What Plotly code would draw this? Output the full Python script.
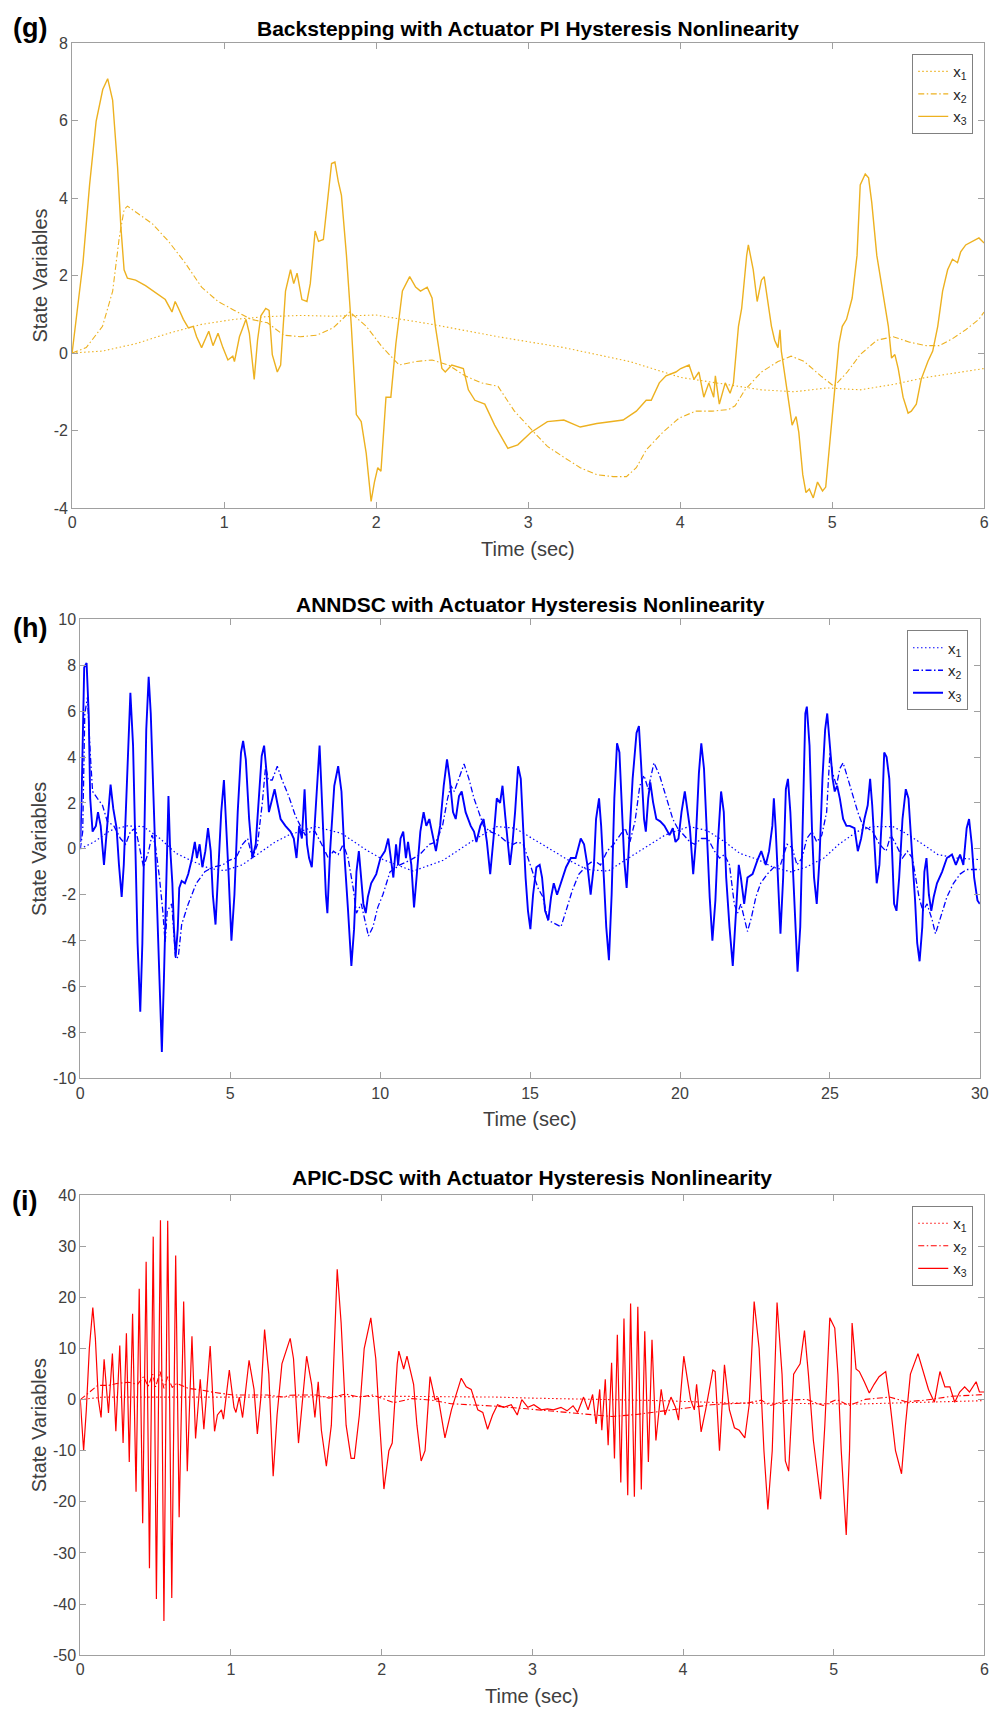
import plotly.graph_objects as go

W, H = 1001, 1719

# ---------------- Panel (g): Backstepping ----------------
g_x1_pts = [(0, 0), (0.2, 0.05), (0.418, 0.24), (0.635, 0.51), (0.852, 0.74), (1.068, 0.87), (1.285, 0.94),
            (1.502, 0.97), (1.718, 0.95), (2.0, 0.98), (2.368, 0.74), (2.802, 0.42), (3.235, 0.14), (3.668, -0.22),
            (4.004, -0.63), (4.318, -0.81), (4.535, -0.95), (4.752, -1.0), (4.969, -0.9), (5.185, -0.95),
            (5.402, -0.81), (5.619, -0.63), (5.835, -0.5), (6.0, -0.4)]
g_x2_pts = [(0, 0), (0.093, 0.14), (0.2, 0.69), (0.267, 1.6), (0.31, 2.97), (0.342, 3.7), (0.364, 3.79),
            (0.527, 3.34), (0.635, 2.88), (0.743, 2.33), (0.852, 1.7), (0.96, 1.33), (1.068, 1.1), (1.177, 0.87),
            (1.285, 0.78), (1.393, 0.46), (1.502, 0.42), (1.61, 0.46), (1.718, 0.65), (1.827, 1.06), (1.935, 0.69),
            (2.043, 0.14), (2.152, -0.31), (2.26, -0.22), (2.368, -0.18), (2.477, -0.31), (2.585, -0.59),
            (2.693, -0.77), (2.802, -0.86), (2.91, -1.5), (3.018, -1.96), (3.127, -2.41), (3.235, -2.69),
            (3.343, -2.96), (3.452, -3.14), (3.56, -3.19), (3.647, -3.19), (3.712, -2.96), (3.777, -2.5),
            (3.885, -2.05), (3.993, -1.68), (4.102, -1.5), (4.21, -1.5), (4.318, -1.46), (4.362, -1.36),
            (4.427, -0.95), (4.535, -0.49), (4.644, -0.22), (4.73, -0.08), (4.817, -0.22), (4.925, -0.59),
            (5.013, -0.86), (5.1, -0.49), (5.185, -0.04), (5.294, 0.33), (5.402, 0.42), (5.51, 0.28),
            (5.619, 0.19), (5.705, 0.19), (5.792, 0.37), (5.879, 0.6), (5.966, 0.87), (6.0, 1.06)]
g_x3_pts = [(0, 0), (0.0715, 2.33), (0.115, 4.34), (0.158, 5.98), (0.2015, 6.8), (0.234, 7.08), (0.2665, 6.53),
            (0.299, 4.8), (0.321, 3.25), (0.342, 2.15), (0.364, 1.93), (0.418, 1.88), (0.483, 1.74), (0.548, 1.56),
            (0.613, 1.38), (0.657, 1.06), (0.678, 1.33), (0.7, 1.15), (0.732, 0.87), (0.765, 0.65), (0.797, 0.69),
            (0.819, 0.42), (0.852, 0.14), (0.873, 0.33), (0.899, 0.56), (0.927, 0.19), (0.96, 0.51), (0.992, 0.14),
            (1.025, -0.18), (1.057, -0.08), (1.068, -0.22), (1.101, 0.42), (1.144, 0.87), (1.166, 0.51),
            (1.198, -0.68), (1.22, 0.33), (1.242, 0.96), (1.274, 1.15), (1.296, 1.1), (1.317, -0.04),
            (1.35, -0.49), (1.372, -0.31), (1.404, 1.6), (1.437, 2.15), (1.458, 1.79), (1.48, 2.06), (1.512, 1.38),
            (1.545, 1.33), (1.567, 1.79), (1.599, 3.15), (1.621, 2.88), (1.653, 2.93), (1.675, 3.7), (1.707, 4.89),
            (1.729, 4.93), (1.751, 4.43), (1.772, 4.07), (1.805, 2.52), (1.837, 0.69), (1.87, -1.59),
            (1.902, -1.77), (1.935, -2.59), (1.967, -3.83), (1.989, -3.33), (2.011, -2.96), (2.032, -3.05),
            (2.065, -1.14), (2.097, -1.14), (2.13, 0.24), (2.173, 1.6), (2.221, 1.97), (2.26, 1.7), (2.292, 1.6),
            (2.336, 1.7), (2.368, 1.42), (2.39, 0.69), (2.433, -0.4), (2.455, -0.49), (2.498, -0.31),
            (2.542, -0.36), (2.574, -0.4), (2.607, -0.95), (2.65, -1.22), (2.715, -1.32), (2.78, -1.86),
            (2.867, -2.46), (2.932, -2.37), (3.018, -2.05), (3.127, -1.77), (3.235, -1.73), (3.343, -1.91),
            (3.452, -1.82), (3.625, -1.73), (3.712, -1.5), (3.777, -1.22), (3.81, -1.22), (3.863, -0.77),
            (3.907, -0.59), (3.972, -0.49), (4.004, -0.4), (4.059, -0.31), (4.091, -0.68), (4.124, -0.49),
            (4.156, -1.14), (4.189, -0.77), (4.221, -1.14), (4.232, -0.59), (4.258, -1.32), (4.297, -0.77),
            (4.329, -1.04), (4.351, -0.77), (4.384, 0.69), (4.405, 1.15), (4.438, 2.52), (4.449, 2.79),
            (4.481, 2.15), (4.507, 1.33), (4.535, 1.88), (4.553, 1.97), (4.601, 0.69), (4.622, 0.33),
            (4.644, 0.14), (4.657, 0.6), (4.666, 0.05), (4.709, -1.14), (4.737, -1.86), (4.763, -1.64),
            (4.781, -2.05), (4.807, -3.14), (4.828, -3.6), (4.85, -3.51), (4.876, -3.74), (4.904, -3.33),
            (4.937, -3.56), (4.958, -3.46), (4.98, -2.5), (5.013, -1.14), (5.045, 0.24), (5.067, 0.69),
            (5.095, 0.87), (5.132, 1.42), (5.164, 2.52), (5.185, 4.34), (5.218, 4.62), (5.24, 4.52),
            (5.261, 3.88), (5.294, 2.52), (5.337, 1.51), (5.37, 0.69), (5.391, -0.13), (5.413, -0.04),
            (5.435, -0.4), (5.467, -1.14), (5.5, -1.55), (5.521, -1.5), (5.554, -1.32), (5.586, -0.68),
            (5.63, -0.22), (5.662, 0.05), (5.695, 0.69), (5.727, 1.6), (5.76, 2.15), (5.792, 2.42), (5.825, 2.33),
            (5.846, 2.61), (5.879, 2.79), (5.922, 2.88), (5.966, 2.97), (6.0, 2.84)]

# ---------------- Panel (h): ANNDSC ----------------
h_x1_pts = [(0, 0), (0.46, 0.3), (1.0, 0.8), (1.56, 1.0), (2.1, 0.97), (2.66, 0.45), (3.2, -0.2), (3.76, -0.55),
            (4.3, -0.85), (4.8, -0.95), (5.4, -0.7), (5.95, -0.2), (6.5, 0.3), (6.95, 0.6), (7.83, 0.97),
            (8.7, 0.68), (9.6, -0.1), (10.1, -0.47), (11.1, -0.97), (12.1, -0.5), (13.2, 0.45), (13.9, 0.97),
            (14.5, 0.9), (15.4, 0.2), (16.25, -0.47), (16.9, -0.9), (17.6, -0.97), (18.2, -0.47), (19.0, 0.2),
            (19.5, 0.6), (20.3, 0.97), (20.9, 0.8), (21.5, 0.3), (22.0, -0.2), (22.6, -0.47), (23.1, -0.8),
            (23.7, -1.0), (24.2, -0.8), (24.8, -0.4), (25.3, 0.2), (25.9, 0.75), (26.4, 0.97), (27.1, 0.97),
            (27.5, 0.7), (28.1, 0.2), (28.6, -0.25), (29.2, -0.4), (30.0, -0.47)]
h_x2_pts = [(0, 0), (0.08, 0.75), (0.15, 5.9), (0.24, 6.6), (0.33, 4.2), (0.41, 2.5), (0.57, 2.2), (0.74, 1.9),
            (0.9, 1.2), (1.12, 1.0), (1.34, 0.45), (1.51, 0.2), (1.67, 0.75), (1.84, 0.9), (2.0, -0.1),
            (2.11, -0.8), (2.28, -0.1), (2.39, 0.6), (2.5, 0.2), (2.64, -1.25), (2.75, -2.7), (2.83, -4.1),
            (2.9, -2.7), (3.05, -2.4), (3.18, -4.8), (3.27, -4.7), (3.38, -3.3), (3.6, -2.4), (3.87, -1.5),
            (4.15, -1.0), (4.42, -0.8), (4.75, -0.7), (4.97, -0.5), (5.19, -0.4), (5.41, 0.2), (5.58, 0.45),
            (5.74, -0.4), (5.91, 0.2), (6.07, 2.0), (6.18, 3.6), (6.27, 3.0), (6.4, 3.0), (6.57, 3.6), (6.73, 3.0),
            (6.95, 2.3), (7.17, 1.45), (7.34, 1.0), (7.5, 0.6), (7.67, 0.75), (7.83, 0.75), (8.05, 0.2),
            (8.27, -0.4), (8.44, -0.1), (8.6, -0.25), (8.77, 0.2), (8.93, -0.4), (9.1, -1.7), (9.21, -2.8),
            (9.37, -2.4), (9.48, -3.0), (9.61, -3.8), (9.76, -3.4), (9.92, -2.55), (10.09, -2.0), (10.33, -1.0),
            (10.66, -0.7), (10.99, -0.5), (11.32, -0.25), (11.64, 0.2), (11.86, 0.3), (12.08, 1.0), (12.25, 2.2),
            (12.36, 2.75), (12.47, 2.5), (12.61, 3.05), (12.8, 3.7), (12.96, 3.05), (13.13, 2.2), (13.29, 1.6),
            (13.45, 1.0), (13.67, 0.75), (13.95, 0.6), (14.22, 0.3), (14.44, 0.2), (14.6, 0.3), (14.77, 0.2),
            (14.93, -0.4), (15.1, -1.1), (15.26, -1.7), (15.43, -2.1), (15.59, -3.1), (15.81, -3.25),
            (16.03, -3.4), (16.2, -2.7), (16.41, -1.8), (16.63, -1.1), (16.91, -0.7), (17.13, -0.5),
            (17.35, -0.7), (17.57, -0.1), (17.79, 0.2), (18.0, 0.6), (18.17, 0.9), (18.33, 0.3), (18.5, 1.2),
            (18.66, 2.75), (18.8, 3.2), (18.94, 2.6), (19.13, 3.75), (19.32, 3.2), (19.54, 2.2), (19.76, 1.3),
            (19.92, 0.9), (20.11, 0.6), (20.33, 0.3), (20.49, 0.2), (20.71, 0.45), (20.93, 0.45), (21.15, -0.1),
            (21.32, -0.4), (21.48, -0.25), (21.65, -0.7), (21.81, -2.4), (21.92, -2.8), (22.03, -2.4),
            (22.14, -3.0), (22.25, -3.6), (22.38, -3.0), (22.53, -2.1), (22.69, -1.5), (22.91, -1.1),
            (23.13, -0.8), (23.35, -0.7), (23.57, 0.2), (23.74, 0.05), (23.9, -0.7), (24.07, -0.4), (24.23, 0.45),
            (24.4, 0.75), (24.56, 0.3), (24.73, 0.6), (24.89, 1.6), (25.0, 4.2), (25.09, 3.3), (25.22, 2.75),
            (25.33, 3.5), (25.44, 3.75), (25.6, 3.05), (25.77, 2.3), (25.93, 1.6), (26.1, 1.0), (26.26, 0.9),
            (26.43, 0.75), (26.65, 0.2), (26.87, -0.1), (27.03, 0.6), (27.2, 0.2), (27.42, -0.4), (27.58, -0.1),
            (27.75, -0.4), (27.97, -2.1), (28.1, -2.7), (28.24, -2.4), (28.41, -3.1), (28.52, -3.7),
            (28.68, -3.0), (28.9, -2.1), (29.12, -1.5), (29.34, -1.1), (29.56, -0.9), (29.78, -0.9), (30.0, -0.9)]
h_x3_pts = [(0, 0.3), (0.04, 2.0), (0.13, 7.9), (0.21, 8.1), (0.28, 5.9), (0.33, 2.2), (0.41, 0.75), (0.52, 1.0),
            (0.59, 1.6), (0.68, 1.0), (0.79, -0.7), (0.9, 0.9), (1.01, 2.8), (1.1, 1.75), (1.21, 0.9),
            (1.29, -0.7), (1.38, -2.1), (1.45, -0.7), (1.56, 3.0), (1.67, 6.8), (1.76, 4.5), (1.84, 0.2),
            (1.91, -4.1), (2.0, -7.1), (2.07, -4.1), (2.13, 0.2), (2.2, 5.2), (2.28, 7.5), (2.35, 5.9), (2.44, 2.3),
            (2.53, -1.25), (2.61, -4.8), (2.72, -8.85), (2.79, -5.6), (2.86, -1.25), (2.94, 2.3), (2.99, 0.2),
            (3.07, -1.5), (3.12, -3.4), (3.18, -4.7), (3.25, -3.5), (3.3, -1.7), (3.38, -1.4), (3.49, -1.5),
            (3.6, -1.1), (3.71, -0.5), (3.82, 0.3), (3.89, -0.4), (3.98, 0.2), (4.07, -0.8), (4.17, -0.1),
            (4.26, 0.9), (4.35, -0.1), (4.42, -2.0), (4.51, -3.3), (4.59, -1.25), (4.7, 1.6), (4.79, 3.0),
            (4.86, 1.3), (4.95, -1.25), (5.04, -4.0), (5.14, -2.0), (5.25, 1.6), (5.36, 4.2), (5.43, 4.7),
            (5.52, 3.9), (5.63, 1.3), (5.74, -0.4), (5.85, 0.2), (5.96, 2.2), (6.05, 4.05), (6.13, 4.5),
            (6.2, 3.5), (6.29, 1.6), (6.4, 2.2), (6.48, 2.6), (6.57, 2.0), (6.68, 1.3), (6.84, 1.0), (7.01, 0.75),
            (7.12, 0.45), (7.21, -0.4), (7.3, 1.0), (7.39, 0.45), (7.48, 2.6), (7.56, 0.2), (7.63, -0.4),
            (7.72, -0.8), (7.81, 0.9), (7.91, 3.3), (7.98, 4.5), (8.03, 3.0), (8.11, 0.2), (8.19, -2.0),
            (8.24, -2.8), (8.33, -0.1), (8.47, 2.75), (8.6, 3.6), (8.71, 2.5), (8.82, -0.5), (8.93, -2.7),
            (9.04, -5.1), (9.13, -3.5), (9.21, -1.0), (9.29, -0.1), (9.37, -1.25), (9.44, -2.4), (9.52, -2.8),
            (9.59, -2.1), (9.7, -1.5), (9.87, -1.1), (10.01, -0.4), (10.16, -0.1), (10.27, 0.45), (10.35, -0.4),
            (10.44, -1.25), (10.53, 0.2), (10.6, -0.7), (10.68, 0.45), (10.77, 0.75), (10.86, -0.4), (10.93, 0.3),
            (11.04, -0.7), (11.13, -2.55), (11.23, -1.0), (11.34, 0.75), (11.45, 1.6), (11.54, 1.0), (11.64, 1.3),
            (11.78, 0.3), (11.86, -0.1), (12.0, 1.0), (12.12, 2.75), (12.23, 3.9), (12.32, 3.05), (12.43, 1.6),
            (12.52, 1.3), (12.63, 2.3), (12.72, 2.5), (12.85, 1.6), (13.02, 1.0), (13.13, 0.75), (13.21, 0.3),
            (13.34, 1.0), (13.45, 1.3), (13.56, 0.3), (13.67, -1.1), (13.78, 0.45), (13.89, 2.2), (14.0, 2.0),
            (14.08, 2.75), (14.17, 1.45), (14.25, 0.2), (14.33, -0.7), (14.41, 0.2), (14.5, 1.6), (14.6, 3.6),
            (14.69, 3.05), (14.77, 0.9), (14.85, -1.25), (14.93, -2.7), (15.01, -3.5), (15.1, -2.0),
            (15.21, -0.8), (15.32, -0.7), (15.4, -1.25), (15.5, -2.7), (15.61, -3.1), (15.7, -2.1), (15.79, -1.5),
            (15.9, -2.0), (16.03, -1.5), (16.2, -0.8), (16.36, -0.4), (16.52, -0.4), (16.69, 0.45), (16.8, 0.2),
            (16.91, -0.7), (17.02, -2.0), (17.13, -0.7), (17.2, 1.3), (17.3, 2.2), (17.37, 1.0), (17.46, -1.25),
            (17.54, -3.4), (17.63, -4.85), (17.72, -2.0), (17.81, 2.2), (17.9, 4.6), (17.98, 4.2), (18.06, 1.6),
            (18.14, -0.5), (18.22, -1.7), (18.31, 0.2), (18.42, 3.05), (18.55, 5.05), (18.63, 5.35), (18.7, 3.75),
            (18.8, 1.3), (18.86, 0.75), (18.94, 2.2), (19.01, 2.9), (19.1, 2.05), (19.21, 1.3), (19.34, 1.2),
            (19.48, 1.0), (19.65, 0.6), (19.76, 0.9), (19.85, 0.3), (19.95, 0.45), (20.05, 1.6), (20.16, 2.5),
            (20.25, 1.6), (20.33, 0.9), (20.44, -1.1), (20.52, 0.2), (20.63, 3.3), (20.71, 4.6), (20.8, 3.5),
            (20.9, 0.2), (20.99, -2.1), (21.08, -4.0), (21.18, -2.25), (21.26, 0.2), (21.37, 2.5), (21.46, 1.6),
            (21.54, -1.25), (21.65, -3.4), (21.76, -5.1), (21.87, -2.7), (21.96, -0.7), (22.03, -1.25),
            (22.14, -2.4), (22.25, -1.25), (22.42, -1.1), (22.58, -0.5), (22.71, -0.1), (22.86, -0.7),
            (22.97, -0.1), (23.08, 1.0), (23.13, 2.2), (23.19, 0.9), (23.26, -1.25), (23.35, -3.7), (23.44, -1.25),
            (23.53, 2.6), (23.6, 3.05), (23.68, 1.6), (23.76, -0.7), (23.85, -3.4), (23.92, -5.35), (24.01, -3.4),
            (24.1, 0.9), (24.18, 5.9), (24.23, 6.2), (24.32, 4.5), (24.4, 0.9), (24.47, -1.25), (24.56, -2.4),
            (24.65, -0.5), (24.75, 3.05), (24.84, 5.2), (24.91, 5.9), (25.0, 4.5), (25.09, 3.05), (25.16, 2.5),
            (25.24, 2.75), (25.33, 2.2), (25.44, 1.3), (25.55, 1.0), (25.66, 1.0), (25.82, 0.9), (25.93, -0.1),
            (26.04, 0.45), (26.15, 1.3), (26.26, 1.9), (26.34, 3.05), (26.41, 1.9), (26.48, 0.45), (26.56, -1.5),
            (26.65, -0.7), (26.74, 1.6), (26.81, 4.2), (26.89, 4.0), (26.98, 3.05), (27.07, 0.2), (27.14, -2.4),
            (27.22, -2.7), (27.31, -1.25), (27.42, 1.3), (27.53, 2.6), (27.62, 2.2), (27.73, 0.2), (27.84, -2.25),
            (27.91, -4.1), (27.99, -4.9), (28.08, -3.4), (28.15, -1.0), (28.22, -0.4), (28.3, -2.0),
            (28.38, -2.7), (28.46, -2.1), (28.57, -1.5), (28.74, -1.0), (28.9, -0.4), (29.07, -0.25), (29.2, -0.7),
            (29.34, -0.25), (29.45, -0.7), (29.56, 0.9), (29.64, 1.3), (29.73, 0.2), (29.81, -1.25),
            (29.92, -2.25), (30.0, -2.4)]

# ---------------- Panel (i): APIC-DSC ----------------
i_x1_pts = [(0, 0), (0.15, 0.5), (0.58, 0.5), (1.24, 0.5), (2.11, 0.65), (2.77, 0.5), (2.99, 0.3), (3.42, 0.05),
            (3.86, -0.2), (4.3, -0.65), (4.73, -0.8), (5.17, -0.85), (5.61, -0.5), (6.0, -0.2)]
i_x2_pts = [(0, 0), (0.06, 1.4), (0.116, 2.8), (0.19, 2.8), (0.25, 3.2), (0.32, 3.4), (0.38, 3.0), (0.42, 4.5),
            (0.45, 2.6), (0.48, 5.0), (0.5, 2.5), (0.53, 5.5), (0.555, 2.2), (0.58, 4.5), (0.61, 2.4), (0.64, 3.2),
            (0.716, 2.2), (0.8, 1.9), (0.89, 1.4), (1.02, 0.9), (1.15, 0.85), (1.24, 0.9), (1.35, 0.5),
            (1.39, 0.85), (1.46, 0.9), (1.57, 0.9), (1.65, 0.3), (1.72, 0.8), (1.76, 1.1), (1.85, 0.5),
            (1.94, 0.9), (2.0, 0.3), (2.08, -0.6), (2.2, 0.2), (2.33, -0.1), (2.46, -0.8), (2.59, -1.0),
            (2.77, -1.3), (3.0, -1.9), (3.2, -2.4), (3.39, -2.9), (3.53, -3.3), (3.69, -2.9), (3.82, -2.4),
            (3.95, -1.9), (4.08, -1.35), (4.19, -1.0), (4.3, -0.8), (4.43, -0.65), (4.52, -0.1), (4.58, -1.15),
            (4.69, -0.1), (4.82, 0.05), (4.93, -1.15), (5.02, 0.05), (5.1, -1.15), (5.21, 0.05), (5.37, 0.5),
            (5.48, -0.4), (5.61, -0.1), (5.78, 0.65), (6.0, 1.0)]
i_x3_pts = [(0, 0), (0.009, -5), (0.022, -10), (0.04, -2), (0.06, 10), (0.083, 18), (0.1, 12), (0.12, 0),
            (0.138, -3.5), (0.158, 7.9), (0.187, -2.6), (0.213, 9.0), (0.236, -6.2), (0.262, 10.6), (0.284, -8.5),
            (0.306, 13.0), (0.325, -12.2), (0.347, 16.8), (0.37, -18), (0.391, 21.7), (0.414, -24.2),
            (0.437, 27.0), (0.459, -33), (0.484, 31.9), (0.505, -39), (0.532, 35.1), (0.555, -43.3), (0.58, 35.0),
            (0.607, -38.8), (0.633, 28.2), (0.656, -23), (0.686, 19.2), (0.71, -14), (0.741, 12.4), (0.765, -7.6),
            (0.796, 4.0), (0.82, -5.8), (0.862, 10.5), (0.891, -6.2), (0.91, -3), (0.937, -2), (0.95, -3.8),
            (0.989, 5.8), (1.02, -1.5), (1.033, -2.5), (1.055, 0.5), (1.077, -3.5), (1.12, 7.7), (1.153, 2),
            (1.175, -6.7), (1.197, 0), (1.223, 13.7), (1.251, 5), (1.28, -15), (1.306, -3), (1.338, 7),
            (1.393, 12), (1.415, 8), (1.448, -8.5), (1.502, 8.5), (1.535, 3), (1.557, -3.5), (1.579, 3.5),
            (1.6, -6), (1.633, -13), (1.666, -5), (1.705, 25.5), (1.731, 15), (1.764, -5), (1.797, -11.5),
            (1.819, -11.5), (1.852, -3), (1.884, 10), (1.928, 16), (1.961, 8), (1.983, -3), (2.015, -17.5),
            (2.048, -10), (2.07, -8.5), (2.103, 7), (2.114, 9.5), (2.146, 6), (2.168, 8.5), (2.212, 3),
            (2.234, -5), (2.262, -12), (2.288, -10), (2.321, 4.5), (2.354, 0), (2.376, 0.3), (2.42, -7.5),
            (2.463, -2), (2.528, 4.2), (2.561, 2.5), (2.594, 2), (2.638, -2), (2.671, -2.5), (2.703, -5.8),
            (2.736, -3), (2.769, -1), (2.81, -1.5), (2.86, -1.0), (2.9, -3.0), (2.93, 0.0), (2.97, -1.5),
            (3.01, -1.0), (3.06, -2.0), (3.1, -1.8), (3.14, -2.0), (3.19, -1.5), (3.23, -2.2), (3.27, -1.2),
            (3.3, -2.5), (3.34, 0.5), (3.37, -2.0), (3.4, 1.0), (3.423, -4.75), (3.447, 2.0), (3.461, -6.0),
            (3.484, 4.0), (3.503, -8.9), (3.526, 7.2), (3.545, -11.5), (3.564, 12.7), (3.587, -16.2),
            (3.608, 15.9), (3.633, -18.7), (3.652, 18.8), (3.677, -19.0), (3.7, 18.2), (3.723, -17.6),
            (3.746, 13.4), (3.77, -12.2), (3.794, 11.7), (3.82, -8), (3.855, 2.0), (3.88, -3), (3.92, 0.5),
            (3.95, -1.5), (3.97, -4), (4.005, 8.5), (4.05, 0), (4.075, -2), (4.09, 3), (4.12, -6.3), (4.15, -2),
            (4.198, 5.8), (4.213, 5.5), (4.242, -10), (4.275, 6.8), (4.308, -2), (4.341, -5.5), (4.373, -6),
            (4.41, -7.5), (4.439, -1), (4.472, 19.2), (4.505, 10), (4.537, -10), (4.563, -21.5), (4.592, -10),
            (4.624, 19), (4.657, 5), (4.679, -12), (4.701, -14), (4.734, 5), (4.755, 6), (4.777, 7),
            (4.806, 13.5), (4.832, 5), (4.865, -8), (4.913, -19.5), (4.941, -5), (4.974, 16), (5.007, 14),
            (5.028, 5), (5.05, -10), (5.083, -26.5), (5.105, -10), (5.122, 15), (5.148, 6), (5.17, 5.5),
            (5.203, 3.5), (5.236, 1.3), (5.268, 3), (5.301, 4.5), (5.345, 5.5), (5.371, 0), (5.41, -10),
            (5.45, -14.5), (5.476, -5), (5.509, 5), (5.559, 9), (5.585, 6.5), (5.629, 2), (5.668, -0.5),
            (5.705, 5.5), (5.738, 2.5), (5.771, 2.5), (5.803, -0.5), (5.836, 1.5), (5.869, 2.5), (5.901, 1.5),
            (5.945, 3.5), (5.967, 1.5), (6.0, 1.5)]

# ---------------- Text / axes ----------------
titles = ["Backstepping with Actuator PI Hysteresis Nonlinearity",
          "ANNDSC with Actuator Hysteresis Nonlinearity",
          "APIC-DSC with Actuator Hysteresis Nonlinearity"]
panel_labels = ["(g)", "(h)", "(i)"]
series_names = ["x<sub>1</sub>", "x<sub>2</sub>", "x<sub>3</sub>"]
colors = ["#EDB120", "#0000FF", "#FF0000"]
x_ranges = [[0, 6], [0, 30], [0, 6]]
x_ticks = [[0, 1, 2, 3, 4, 5, 6], [0, 5, 10, 15, 20, 25, 30], [0, 1, 2, 3, 4, 5, 6]]
y_ranges = [[-4, 8], [-10, 10], [-50, 40]]
y_ticks = [[-4, -2, 0, 2, 4, 6, 8],
           [-10, -8, -6, -4, -2, 0, 2, 4, 6, 8, 10],
           [-50, -40, -30, -20, -10, 0, 10, 20, 30, 40]]

# pixel layout (x0, x1, y_top, y_bottom) of each plot box
boxes = [(69, 993, 35.4, 505.0), (77.3, 988.7, 617.5, 1081.0), (77.3, 993.3, 1199.1, 1663.6)]
legend_boxes = [(982.0, 46.6), (976.7, 628.7), (982.0, 1210.0)]
title_y = [20.4, 602.5, 1181.4]
label_pos = [(26, 20), (26, 626), (21, 1205)]

FONT = "Liberation Sans, Arial, Helvetica, sans-serif"


def px(x):
    return x / W


def py(y):
    return 1 - y / H


def unzip(pts):
    return [p[0] for p in pts], [p[1] for p in pts]


panels = [(g_x1_pts, g_x2_pts, g_x3_pts), (h_x1_pts, h_x2_pts, h_x3_pts), (i_x1_pts, i_x2_pts, i_x3_pts)]
dashes = ["1.5px,2.5px", "6px,2.5px,1.5px,2.5px", "solid"]
widths = [[1.1, 1.1, 1.4], [1.2, 1.3, 1.9], [1.1, 1.1, 1.2]]

fig = go.Figure()
annotations = []
layout = dict(width=W, height=H, margin=dict(l=0, r=0, t=0, b=0), paper_bgcolor="white",
              plot_bgcolor="white", showlegend=True, font=dict(family=FONT, color="#262626"))

for k in range(3):
    suffix = "" if k == 0 else str(k + 1)
    xa, ya = "x" + suffix, "y" + suffix
    leg = "legend" + suffix
    for s in range(3):
        t, v = unzip(panels[k][s])
        fig.add_trace(go.Scatter(x=t, y=v, mode="lines", name=series_names[s], xaxis=xa, yaxis=ya,
                                 legend=leg, hoverinfo="skip",
                                 line=dict(color=colors[k], width=widths[k][s], dash=dashes[s])))
    x0, x1, yt, yb = boxes[k]
    axis_common = dict(showline=True, linecolor="#A0A0A0", linewidth=1, mirror="ticks", ticks="inside",
                       ticklen=6, tickcolor="#A0A0A0", showgrid=False, zeroline=False,
                       tickfont=dict(family=FONT, size=16, color="#404040"))
    layout["xaxis" + suffix] = dict(domain=[px(x0), px(x1)], range=x_ranges[k], anchor=ya,
                                    tickvals=x_ticks[k], ticktext=[str(v) for v in x_ticks[k]],
                                    **axis_common)
    layout["yaxis" + suffix] = dict(domain=[py(yb), py(yt)], range=y_ranges[k], anchor=xa,
                                    tickvals=y_ticks[k], ticktext=[str(v) for v in y_ticks[k]],
                                    **axis_common)
    lx, ly = legend_boxes[k]
    layout[leg] = dict(x=px(lx), y=py(ly), xanchor="right", yanchor="top", bgcolor="white",
                       bordercolor="#808080", borderwidth=1, font=dict(family=FONT, size=15, color="#262626"),
                       tracegroupgap=0, itemwidth=30)
    annotations.append(dict(text="<b>" + titles[k] + "</b>", x=px((x0 + x1) / 2), y=py(title_y[k]),
                            xref="paper", yref="paper", showarrow=False, xanchor="center", yanchor="middle",
                            font=dict(family=FONT, size=21, color="#000000")))
    annotations.append(dict(text="<b>" + panel_labels[k] + "</b>", x=px(label_pos[k][0]), y=py(label_pos[k][1]),
                            xref="paper", yref="paper", showarrow=False, xanchor="center", yanchor="middle",
                            font=dict(family=FONT, size=27, color="#000000")))
    annotations.append(dict(text="Time (sec)", x=px((x0 + x1) / 2), y=py(yb + 41), xref="paper", yref="paper",
                            showarrow=False, xanchor="center", yanchor="middle",
                            font=dict(family=FONT, size=20, color="#404040")))
    annotations.append(dict(text="State Variables", x=px(35.5), y=py((yt + yb) / 2), xref="paper",
                            yref="paper", showarrow=False, xanchor="center", yanchor="middle", textangle=-90,
                            font=dict(family=FONT, size=20, color="#404040")))

layout["annotations"] = annotations
fig.update_layout(**layout)
fig.write_html("out.html", config={"displayModeBar": False},
               post_script="document.body.style.margin='0';document.body.style.overflow='hidden';")
